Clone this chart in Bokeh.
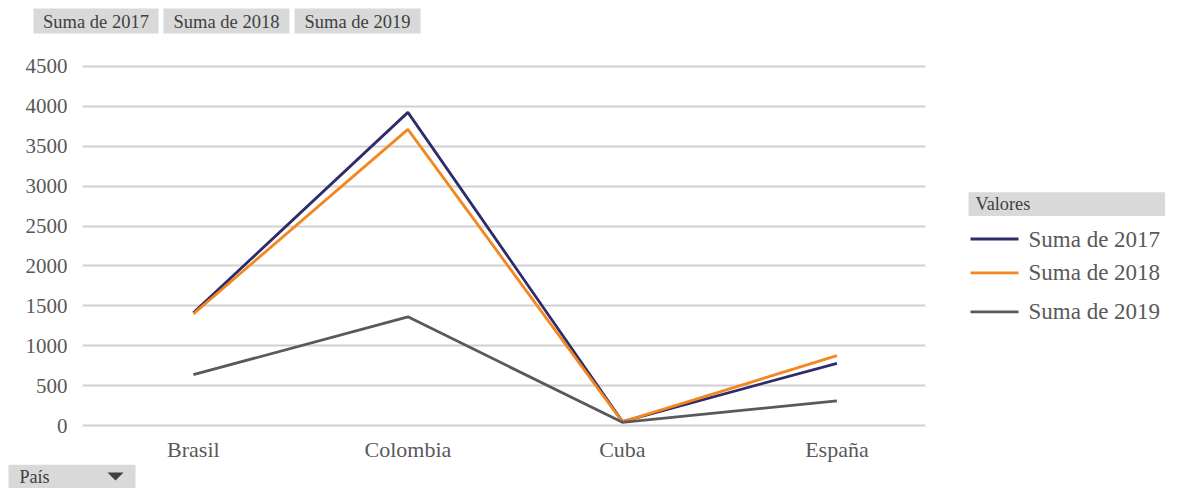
from bokeh.plotting import figure
from bokeh.layouts import column, row
from bokeh.models import Range1d, FixedTicker, ColumnDataSource
from bokeh.core.properties import value
from bokeh.embed import file_html
from bokeh.resources import INLINE

paises = ["Brasil", "Colombia", "Cuba", "España"]
suma_2017 = [1412, 3925, 50, 780]
suma_2018 = [1400, 3712, 45, 875]
suma_2019 = [637, 1362, 40, 308]
series_names = ["Suma de 2017", "Suma de 2018", "Suma de 2019"]
y_ticks = [0, 500, 1000, 1500, 2000, 2500, 3000, 3500, 4000, 4500]
legend_title = "Valores"
axis_field = "País"

colors = ["#2E2D6B", "#F5861F", "#595959"]
FONT = "Liberation Serif"
BTN = "#D9D9D9"
BTN_TEXT = "#404040"
TXT = "#595959"
LW = 2.8

TOTAL_W = 1165
TOP_H, MID_H, BOT_H = 50, 414, 24
MAIN_W = 960
SIDE_W = TOTAL_W - MAIN_W
MB_TOP, MB_BOT = 11, 33   # main frame borders (side figure frame is aligned to them)


def deco(w, h, x0=0, y0=0, bt=0, bb=0):
    # page-pixel coordinates: x from x0, y downward from y0 (frame region)
    f = figure(width=w, height=h,
               x_range=Range1d(x0, x0 + w), y_range=Range1d(y0 + h - bb, y0 + bt),
               min_border_left=0, min_border_right=0, min_border_top=bt, min_border_bottom=bb,
               x_axis_location=None, y_axis_location=None,
               output_backend="svg", toolbar_location=None)
    f.grid.visible = False
    f.outline_line_color = None
    f.background_fill_color = "white"
    f.border_fill_color = "white"
    return f


# --- top strip: field buttons ---
top = deco(TOTAL_W, TOP_H)
bl, br = [33, 163, 294], [158, 289, 420]
top.quad(left=bl, right=br, top=[8] * 3, bottom=[33] * 3, fill_color=BTN, line_color=None)
top.text(x=[(a + b) / 2 for a, b in zip(bl, br)], y=[21] * 3, text=series_names,
         text_font=value(FONT), text_font_size=value("18.5px"), text_color=BTN_TEXT,
         text_align="center", text_baseline="middle")

# --- main chart ---
xs = list(range(len(paises)))
src = ColumnDataSource(dict(x=xs, s2017=suma_2017, s2018=suma_2018, s2019=suma_2019))

main = figure(width=MAIN_W, height=MID_H, output_backend="svg", toolbar_location=None,
              x_range=Range1d(-0.517, 3.413), y_range=Range1d(-62.5, 4562.5),
              min_border_left=82, min_border_right=35, min_border_top=MB_TOP,
              min_border_bottom=MB_BOT)
main.outline_line_color = None
main.xgrid.visible = False
main.ygrid.ticker = FixedTicker(ticks=y_ticks)
main.ygrid.grid_line_color = "#D0D0D0"
main.ygrid.grid_line_width = 2
main.yaxis.ticker = FixedTicker(ticks=y_ticks)
main.xaxis.ticker = FixedTicker(ticks=xs)
main.xaxis.major_label_overrides = {i: n for i, n in enumerate(paises)}
for ax in (main.xaxis[0], main.yaxis[0]):
    ax.axis_line_color = None
    ax.major_tick_line_color = None
    ax.minor_tick_line_color = None
    ax.major_tick_out = 0
    ax.major_tick_in = 0
    ax.major_label_text_font = FONT
    ax.major_label_text_color = TXT
main.yaxis.major_label_text_font_size = "21px"
main.xaxis.major_label_text_font_size = "22px"
main.yaxis.major_label_standoff = 15
main.xaxis.major_label_standoff = 6

for col, c in zip(["s2017", "s2018", "s2019"], colors):
    main.line("x", col, source=src, line_color=c, line_width=LW)

# --- side: legend ---
side = deco(SIDE_W, MID_H, x0=MAIN_W, y0=TOP_H, bt=MB_TOP, bb=MB_BOT)
side.quad(left=[968], right=[TOTAL_W], top=[192], bottom=[216], fill_color=BTN, line_color=None)
side.text(x=[975], y=[204], text=[legend_title], text_font=value(FONT),
          text_font_size=value("18.3px"), text_color=BTN_TEXT, text_baseline="middle")
leg_y = [239, 273, 312]
side.segment(x0=[970] * 3, x1=[1018] * 3, y0=leg_y, y1=leg_y, line_color=colors, line_width=LW)
side.text(x=[1028] * 3, y=leg_y, text=series_names, text_font=value(FONT),
          text_font_size=value("23px"), text_color=TXT, text_baseline="middle")

# --- bottom strip: axis field button ---
bot = deco(TOTAL_W, BOT_H)
bot.quad(left=[8], right=[135], top=[0], bottom=[24], fill_color=BTN, line_color=None)
bot.text(x=[19], y=[12], text=[axis_field], text_font=value(FONT),
         text_font_size=value("18px"), text_color=BTN_TEXT, text_baseline="middle")
bot.patch(x=[107, 123, 115], y=[8, 8, 16], fill_color=BTN_TEXT, line_color=None)

layout = column(top, row(main, side, spacing=0), bot, spacing=0)
open("out.html", "w").write(file_html(layout, INLINE))
